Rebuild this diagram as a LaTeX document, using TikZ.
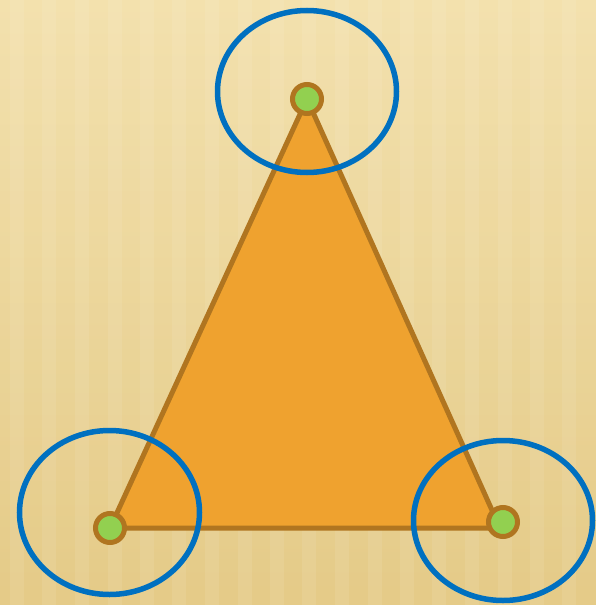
\documentclass[tikz,border=0pt]{standalone}
\usetikzlibrary{shapes.geometric}
\definecolor{bgA}{HTML}{F6E6B6}
\definecolor{bgB}{HTML}{E5CB88}
\definecolor{triFill}{HTML}{EFA22F}
\definecolor{triLine}{HTML}{B07520}
\definecolor{dotGreen}{HTML}{92D050}
\definecolor{ringBlue}{HTML}{0070C0}
\tikzset{
  dot/.style={circle, fill=dotGreen, draw=triLine, line width=5pt, minimum size=29pt, inner sep=0pt},
  ring/.style={ellipse, draw=ringBlue, line width=5.5pt, inner sep=0pt},
  tri/.style={fill=triFill, draw=triLine, line width=5pt, line join=round}
}
\begin{document}
\begin{tikzpicture}[x=1pt,y=-1pt]
\useasboundingbox (0,0) rectangle (596,605);
\shade[left color=bgA, right color=bgB, shading angle=0] (0,0) rectangle (596,605);
\fill[bgB, opacity=0.35] (0,0) -- (596,0) -- (596,605) -- (0,605) -- cycle;
\shade[top color=bgA, bottom color=bgB, opacity=0.5] (0,0) rectangle (596,605);
\foreach \x in {10,42,75,108,140,172,205,238,270,302,335,368,400,432,465,498,530,562}{
  \fill[white, opacity=0.08] (\x,0) rectangle ++(14,605);
}
\coordinate (A) at (307,99);
\coordinate (B) at (110,528);
\coordinate (C) at (500,528);
\draw[tri] (A) -- (B) -- (C) -- cycle;
\node[dot] (dA) at (307,99) {};
\node[dot] (dB) at (110,528) {};
\node[dot] (dC) at (503,522) {};
\node[ring, minimum width=179pt, minimum height=162pt] (rA) at (307,91.5) {};
\node[ring, minimum width=180pt, minimum height=164pt] (rB) at (109.5,512.5) {};
\node[ring, minimum width=179pt, minimum height=160pt] (rC) at (503,520.5) {};
\end{tikzpicture}
\end{document}
